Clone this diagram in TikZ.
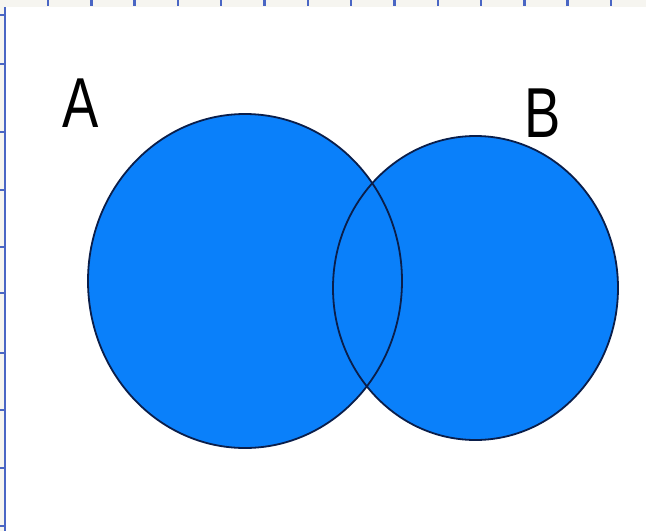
\documentclass[tikz,border=0pt]{standalone}
\usepackage{fontspec}
\setmainfont{Liberation Sans}
\usetikzlibrary{positioning}
\definecolor{vfill}{HTML}{0A80FA}
\definecolor{vline}{HTML}{0A1E4A}
\definecolor{rulebg}{HTML}{F6F5F0}
\definecolor{ruletick}{HTML}{4A66C4}
\tikzset{
  vset/.style     = {fill=vfill},
  vedge/.style    = {draw=vline, line width=1.8pt},
  setlab/.style   = {font=\fontsize{68}{68}\selectfont, text=black, inner sep=0pt,
                     xscale=0.8, yscale=1.04},
  ruletk/.style   = {draw=ruletick, line width=2.4pt},
}
\begin{document}
\begin{tikzpicture}[x=1pt, y=-1pt]
  \useasboundingbox (0,0) rectangle (646,531);
  \fill[white] (0,0) rectangle (646,531);
  % ruler strips
  \fill[rulebg] (0,0) rectangle (646,7);
  \fill[rulebg] (0,0) rectangle (5,531);
  \draw[draw=ruletick, line width=1.8pt] (5,7) -- (5,531);
  \foreach \tx in {48,91.3,...,612}
    \draw[ruletk] (\tx,0) -- (\tx,6);
  \foreach \ty in {15,64,132,190,247,293,353,410,468,526}
    \draw[ruletk] (0,\ty) -- (5,\ty);
  % the two sets
  \coordinate (cA) at (245,281);
  \coordinate (cB) at (475.5,288);
  \fill[vset] (cA) ellipse (157 and 167);
  \fill[vset] (cB) ellipse (142.5 and 152);
  \draw[vedge] (cA) ellipse (157 and 167);
  \draw[vedge] (cB) ellipse (142.5 and 152);
  \node[setlab] (labA) at (81,103) {A};
  \node[setlab] (labB) at (543,113) {B};
\end{tikzpicture}
\end{document}
